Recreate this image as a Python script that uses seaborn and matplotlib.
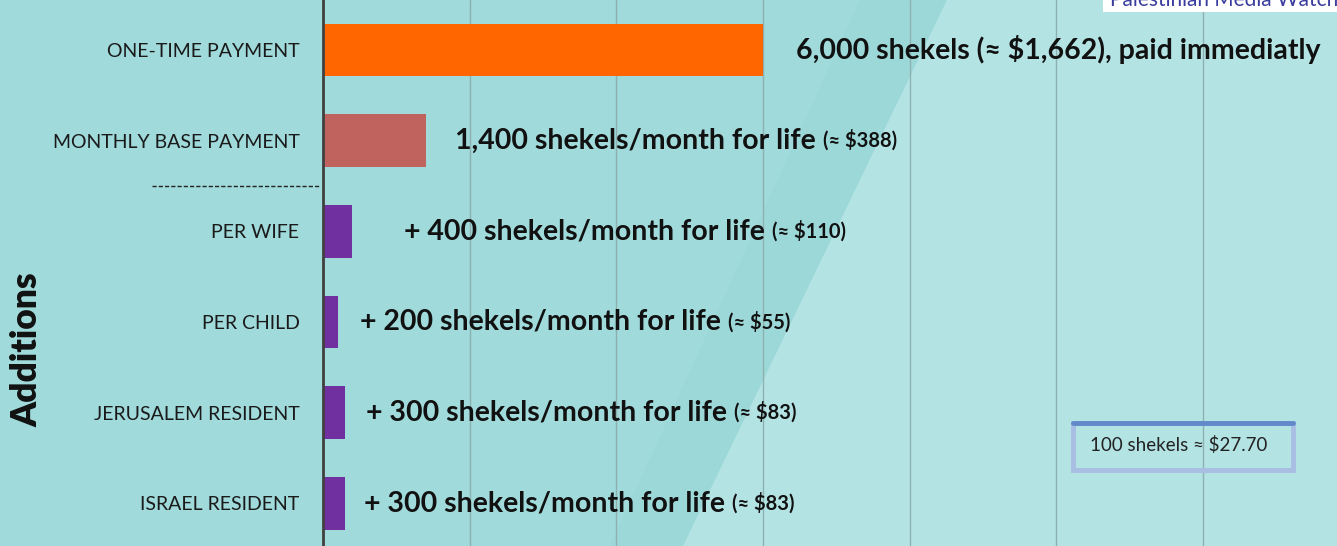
import matplotlib
matplotlib.use('Agg')
import pandas as pd
import seaborn as sns
import matplotlib.pyplot as plt
import matplotlib.transforms as mtransforms
from matplotlib.patches import Polygon, Rectangle
from matplotlib.lines import Line2D

categories = ['ONE-TIME PAYMENT', 'MONTHLY BASE PAYMENT', 'PER WIFE', 'PER CHILD',
              'JERUSALEM RESIDENT', 'ISRAEL RESIDENT']
shekels = [6000, 1400, 400, 200, 300, 300]
main_labels = ['6,000 shekels (≈ $1,662), paid immediatly',
               '1,400 shekels/month for life',
               '+ 400 shekels/month for life',
               '+ 200 shekels/month for life',
               '+ 300 shekels/month for life',
               '+ 300 shekels/month for life']
usd_labels = ['', '(≈ $388)', '(≈ $110)', '(≈ $55)', '(≈ $83)', '(≈ $83)']
bar_colors = ['#FF6600', '#C0635E', '#7030A0', '#7030A0', '#7030A0', '#7030A0']
label_gap = [24, 21, 37, 16, 15, 14]  # points between bar end and text

W, H = 1337, 546
sns.set_style('white')
plt.rcParams['font.family'] = ['Lato', 'DejaVu Sans']

fig = plt.figure(figsize=(W / 100, H / 100), dpi=100, facecolor='#A0DADB')


def px(x, y):
    return (x / W, 1 - y / H)


# background shading
fig.add_artist(Polygon([px(860, 0), px(947, 0), px(683, 546), px(610, 546)],
                       closed=True, transform=fig.transFigure, facecolor='#9DD8D9',
                       edgecolor='none', zorder=-2))
fig.add_artist(Polygon([px(947, 0), px(W, 0), px(W, H), px(683, H)],
                       closed=True, transform=fig.transFigure, facecolor='#B4E3E4',
                       edgecolor='none', zorder=-2))

ax = fig.add_axes([323 / W, 0, (W - 323) / W, 1])
ax.set_facecolor('none')

df = pd.DataFrame({'category': categories, 'shekels': shekels})
sns.barplot(data=df, x='shekels', y='category', hue='category', palette=bar_colors,
            orient='h', width=0.58, legend=False, ax=ax, linewidth=0, saturation=1)

ax.set_xlim(0, 13830)
ax.set_ylim(5.47, -0.55)
ax.set_xticks(range(0, 13000, 2000))
ax.grid(axis='x', color='#8FB0B0', lw=1)
ax.set_axisbelow(True)
ax.tick_params(axis='x', length=0, labelbottom=False)
ax.tick_params(axis='y', length=0, pad=17, labelsize=14, labelcolor='#1a1a1a')
ax.set_xlabel('')
ax.set_ylabel('')
for s in ['top', 'right', 'bottom']:
    ax.spines[s].set_visible(False)
ax.spines['left'].set_color('#404040')
ax.spines['left'].set_linewidth(2)

for i, (v, txt, usd, gap) in enumerate(zip(shekels, main_labels, usd_labels, label_gap)):
    t = ax.annotate(txt, xy=(v, i), xytext=(gap, 0), textcoords='offset points',
                    va='center', ha='left', fontsize=20.5, fontweight='bold', color='#111111')
    if usd:
        ax.annotate(usd, xy=(1, 0), xycoords=t, xytext=(5, 2), textcoords='offset points',
                    va='bottom', ha='left', fontsize=14.5, fontweight='bold', color='#111111')

# dashed separator between base payments and additions
blend = mtransforms.blended_transform_factory(ax.transAxes, ax.transData)
ax.add_line(Line2D([-171 / 1014, -3 / 1014], [1.5, 1.5], transform=blend, clip_on=False,
                   color='#222222', lw=1, linestyle=(0, (3, 1.5))))

fig.text(*px(27, 350), 'Additions', rotation=90, ha='center', va='center',
         fontsize=25.5, fontweight='heavy', color='#111111')

# conversion note box
fig.add_artist(Rectangle(px(1073, 470), (1293 - 1073) / W, 47 / H, transform=fig.transFigure,
                         facecolor='none', edgecolor='#A9BEE3', lw=3.5, zorder=5))
fig.add_artist(Line2D([1073 / W, 1293 / W], [1 - 423 / H] * 2, transform=fig.transFigure,
                      color='#6289CA', lw=3.5, zorder=6))
fig.text(*px(1090, 445), '100 shekels ≈ $27.70', ha='left', va='center',
         fontsize=13.5, color='#222222')

# source box, cut off at the top
fig.add_artist(Rectangle(px(1103, 12), (W - 1103) / W, 14 / H, transform=fig.transFigure,
                         facecolor='white', edgecolor='none', zorder=5))
fig.text(*px(1110, 6), 'Palestinian Media Watch', ha='left', va='baseline',
         fontsize=15, color='#3B3E9E', zorder=6)

fig.savefig('out.png', dpi=100, facecolor=fig.get_facecolor())
